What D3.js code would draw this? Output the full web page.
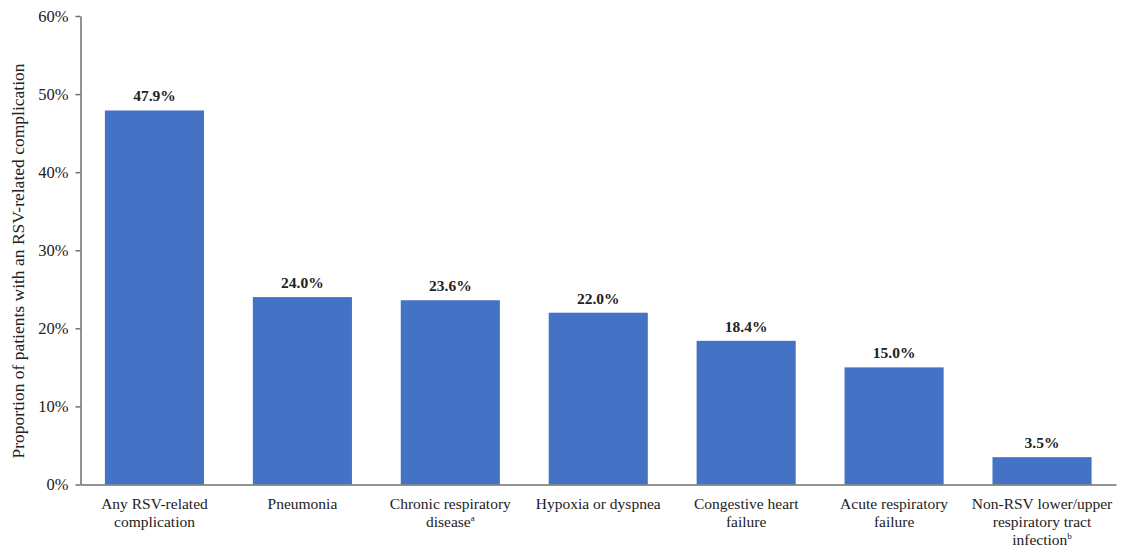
<!DOCTYPE html>
<html><head><meta charset="utf-8">
<script src="https://cdn.jsdelivr.net/npm/d3@7"></script>
<style>
body{margin:0;background:#fff;}
svg text{font-family:"Times New Roman","Liberation Serif","Nimbus Roman","DejaVu Serif",serif !important;fill:#222;}
</style></head>
<body><svg id="c" width="1124" height="549"></svg>
<script>
const categories = [
  ["Any RSV-related","complication"],
  ["Pneumonia"],
  ["Chronic respiratory","disease|a"],
  ["Hypoxia or dyspnea"],
  ["Congestive heart","failure"],
  ["Acute respiratory","failure"],
  ["Non-RSV lower/upper","respiratory tract","infection|b"]
];
const values = [47.9, 24.0, 23.6, 22.0, 18.4, 15.0, 3.5];
const yTicks = [0,10,20,30,40,50,60];
const yTitle = "Proportion of patients with an RSV-related complication";

const svg = d3.select("#c");
const mLeft = 80.5, mRight = 1116, mTop = 16, mBottom = 484.5;
const x = d3.scaleBand().domain(d3.range(categories.length)).range([mLeft, mRight]).paddingInner(0.33).paddingOuter(0.165);
const y = d3.scaleLinear().domain([0,60]).range([mBottom, mTop]);

svg.selectAll("rect.bar").data(values).join("rect")
  .attr("x",(d,i)=>x(i)).attr("width",x.bandwidth())
  .attr("y",d=>y(d)).attr("height",d=>y(0)-y(d))
  .attr("fill","#4472C4");

svg.selectAll("text.val").data(values).join("text")
  .attr("x",(d,i)=>x(i)+x.bandwidth()/2).attr("y",d=>y(d)-9)
  .attr("text-anchor","middle").attr("font-weight","bold").attr("font-size","15.5px")
  .text(d=>d.toFixed(1)+"%");

// y axis
const ya = svg.append("g").attr("transform",`translate(${mLeft},0)`)
  .call(d3.axisLeft(y).tickValues(yTicks).tickFormat(d=>d+"%").tickSize(5).tickSizeOuter(0));
ya.select(".domain").attr("stroke","#6f6f6f").attr("stroke-width",1.5);
ya.selectAll(".tick line").attr("stroke","#6f6f6f").attr("stroke-width",1.5);
ya.selectAll(".tick text").attr("font-size","16.5px").attr("x",-12).attr("fill","#333");

// x axis
const xa = svg.append("g").attr("transform",`translate(0,${mBottom})`)
  .call(d3.axisBottom(x).tickSize(0).tickSizeOuter(0).tickFormat(""));
xa.select(".domain").attr("stroke","#6f6f6f").attr("stroke-width",1.5);
xa.selectAll(".tick").each(function(d){
  const t = d3.select(this).append("text").attr("text-anchor","middle").attr("font-size","15.5px")
    .attr("fill","#222");
  categories[d].forEach((line,k)=>{
    const parts = line.split("|");
    t.append("tspan").attr("x",0).attr("y",24+k*18).text(parts[0]);
    if(parts[1]) t.append("tspan").attr("font-size","9px").attr("dy",-6).text(parts[1]);
  });
});

svg.append("text").attr("transform",`translate(24,261) rotate(-90)`)
  .attr("text-anchor","middle").attr("font-size","17.5px").text(yTitle);
</script></body></html>
